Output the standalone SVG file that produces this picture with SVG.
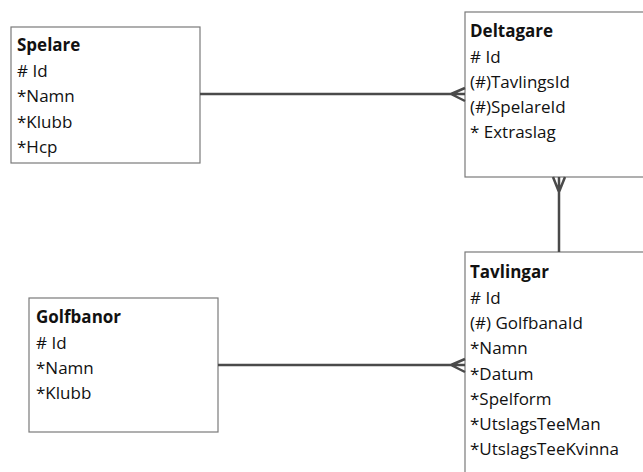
<svg xmlns="http://www.w3.org/2000/svg" width="643" height="472" viewBox="0 0 643 472">
<style>
.box{fill:#fff;stroke:#7a7a7a;stroke-width:1.2}
.t{font-family:"Open Sans","Liberation Sans",sans-serif;font-size:17px;fill:#111}
.h{font-weight:bold}
.c{fill:none;stroke:#4a4a4a;stroke-width:2.5}
</style>
<rect width="643" height="472" fill="#fff"/>
<g id="Spelare">
<rect class="box" x="11" y="27" width="189" height="136"/>
<text class="t h" x="17" y="51">Spelare</text>
<text class="t" x="17" y="77"># Id</text>
<text class="t" x="17" y="102">*Namn</text>
<text class="t" x="17" y="128">*Klubb</text>
<text class="t" x="17" y="153">*Hcp</text>
</g>
<g id="Deltagare">
<rect class="box" x="465" y="12" width="190" height="165"/>
<text class="t h" x="470" y="37">Deltagare</text>
<text class="t" x="470" y="63"># Id</text>
<text class="t" x="470" y="88">(#)TavlingsId</text>
<text class="t" x="470" y="113">(#)SpelareId</text>
<text class="t" x="470" y="138">* Extraslag</text>
</g>
<g id="Tavlingar">
<rect class="box" x="465" y="252" width="190" height="230"/>
<text class="t h" x="470" y="278">Tavlingar</text>
<text class="t" x="470" y="304"># Id</text>
<text class="t" x="470" y="329">(#) GolfbanaId</text>
<text class="t" x="470" y="354">*Namn</text>
<text class="t" x="470" y="380">*Datum</text>
<text class="t" x="470" y="405">*Spelform</text>
<text class="t" x="470" y="430">*UtslagsTeeMan</text>
<text class="t" x="470" y="455">*UtslagsTeeKvinna</text>
</g>
<g id="Golfbanor">
<rect class="box" x="29" y="298" width="189" height="134"/>
<text class="t h" x="36" y="323">Golfbanor</text>
<text class="t" x="36" y="349"># Id</text>
<text class="t" x="36" y="374">*Namn</text>
<text class="t" x="36" y="399">*Klubb</text>
</g>
<g id="connectors">
<path class="c" d="M200 94 H465 M451 94 L465 88 M451 94 L465 101"/>
<path class="c" d="M559 252 V177 M559 192 L553 177 M559 192 L565 177"/>
<path class="c" d="M218 365 H465 M451 365 L465 359 M451 365 L465 372"/>
</g>
</svg>
